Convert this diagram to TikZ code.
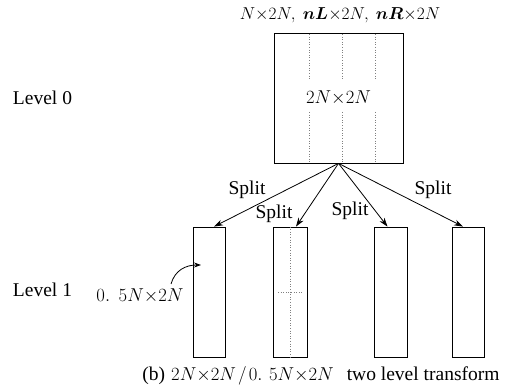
\RequirePackage{fix-cm}
\documentclass[tikz,border=0pt]{standalone}
\usepackage{fontspec}
\setmainfont{Liberation Serif}
\usepackage{bm}
\usepackage{graphicx}
\usetikzlibrary{arrows.meta,calc}
\newcommand{\mfs}[1]{\fontsize{#1}{#1}\selectfont}
\newcommand{\bigmath}[1]{\scalebox{1.08}{\mfs{17.28}$#1$}}
\begin{document}
\begin{tikzpicture}[x=1pt,y=-1pt,
  every node/.style={font=\fontsize{19.5}{22}\selectfont, inner sep=0pt},
  blk/.style={draw, line width=0.8pt, minimum width=#1, minimum height=130pt},
  dotl/.style={draw=gray, dotted, line width=0.6pt},
  arr/.style={line width=0.8pt, -{Stealth[length=9pt,width=6pt]}}]
\useasboundingbox (0,0) rectangle (512,390);
% level 0
\node[blk=129pt] (big) at (338.5,98) {};
\node (bigtxt) at (338.5,98) {\bigmath{2N{\times}2N}};
\foreach \x in {309,342,375}{
  \draw[dotl] (\x,34) -- (\x,80);
  \draw[dotl] (\x,112) -- (\x,162);
}
\node[font=\mfs{17.28}] (top) at (340,15) {$N{\times}2N,\ \bm{nL}{\times}2N,\ \bm{nR}{\times}2N$};
\node (lv0) at (42.5,98) {Level 0};
% level 1
\node[blk=32pt] (b1) at (209,292) {};
\node[blk=34pt] (b2) at (290,292) {};
\node[blk=33pt] (b3) at (390.5,292) {};
\node[blk=32pt] (b4) at (468,292) {};
\draw[dotl] (b2.north) -- (b2.south);
\draw[dotl] (278,292) -- (302,292);
\node (lv1) at (42.5,290) {Level 1};
\node (half) at (140,296) {\bigmath{0.\hspace{8pt}5N{\times}2N}};
\draw[arr, -{Stealth[length=7pt,width=5pt]}] (171,284) .. controls (175,270) and (186,265) .. (201,265);
% arrows
\draw[arr] (big.south) -- ([xshift=5pt]b1.north);
\draw[arr] (big.south) -- ([xshift=6pt]b2.north);
\draw[arr] (big.south) -- ([xshift=-3pt]b3.north);
\draw[arr] (big.south) -- ([xshift=-5pt]b4.north);
\node (s1) at (247,190) {Split};
\node (s2) at (274,214) {Split};
\node (s3) at (350,211) {Split};
\node (s4) at (433,190) {Split};
% caption
\node (cap) at (321,376) {(b)\hspace{6pt}\bigmath{2N{\times}2N\hspace{2pt}/\hspace{2pt}0.\hspace{6pt}5N{\times}2N}\hspace{13pt}two level transform};
\end{tikzpicture}
\end{document}
